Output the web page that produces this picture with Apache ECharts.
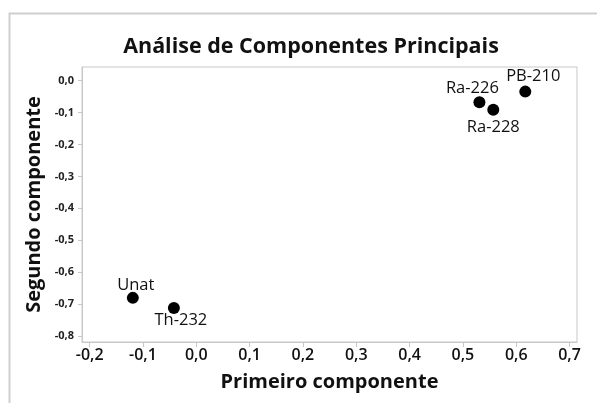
<!DOCTYPE html>
<html>
<head>
<meta charset="utf-8">
<script src="https://cdn.jsdelivr.net/npm/echarts@6/dist/echarts.min.js"></script>
<style>
  html, body { margin: 0; padding: 0; background: #fff; }
  #main { width: 598px; height: 403px; }
</style>
</head>
<body>
<div id="main"></div>
<script>
// variáveis e cargas (PC1, PC2)
var names = ["Unat", "Th-232", "Ra-226", "Ra-228", "PB-210"];
var pc1 = [-0.119, -0.042, 0.531, 0.557, 0.617];
var pc2 = [-0.680, -0.712, -0.068, -0.092, -0.035];
var xTicks = [-0.2, -0.1, 0.0, 0.1, 0.2, 0.3, 0.4, 0.5, 0.6, 0.7];
var yTicks = [0.0, -0.1, -0.2, -0.3, -0.4, -0.5, -0.6, -0.7, -0.8];
// deslocamento dos rótulos (px)
var labelOffset = [[3, -13], [7, 12], [-7, -14], [0, 17], [8, -15]];

var fontFam = "'Open Sans', 'Noto Sans', sans-serif";

function virgula(v) {
  return v.toFixed(1).replace(".", ",").replace("-0,0", "0,0");
}

var pontos = [];
for (var i = 0; i < names.length; i++) {
  pontos.push({
    value: [pc1[i], pc2[i]],
    name: names[i],
    label: {
      show: true,
      position: "inside",
      offset: labelOffset[i],
      formatter: names[i],
      fontSize: 16.5,
      color: "#111",
      fontFamily: fontFam
    }
  });
}

var myChart = echarts.init(document.getElementById("main"));
var option = {
  backgroundColor: "#fff",
  animation: false,
  title: {
    text: "Análise de Componentes Principais",
    left: 306,
    textAlign: "center",
    top: 31,
    textStyle: { fontSize: 21.5, fontWeight: "bold", color: "#111", fontFamily: fontFam }
  },
  graphic: [{
    type: "polyline",
    shape: { points: [[9.5, 420], [9.5, 13.5], [597, 13.5]] },
    style: { stroke: "#cfcfcf", lineWidth: 2, fill: null }
  }],
  grid: { left: 82, right: 21, top: 67, bottom: 61, show: true, borderColor: "#c8c8c8", borderWidth: 1 },
  xAxis: {
    type: "value",
    min: -0.2143,
    max: 0.714,
    name: "Primeiro componente",
    nameLocation: "middle",
    nameGap: 30,
    nameTextStyle: { fontSize: 20, fontWeight: "bold", color: "#111", fontFamily: fontFam },
    splitLine: { show: false },
    axisLine: { show: true, onZero: false, lineStyle: { color: "#c8c8c8" } },
    axisTick: { show: true, length: 5, lineStyle: { color: "#c8c8c8" }, customValues: xTicks },
    axisLabel: {
      customValues: xTicks,
      fontSize: 16, fontWeight: 600, color: "#111", fontFamily: fontFam, margin: 5,
      formatter: function (v) { return virgula(v); }
    }
  },
  yAxis: {
    type: "value",
    min: -0.818,
    max: 0.042,
    name: "Segundo componente",
    nameLocation: "middle",
    nameGap: 35,
    nameTextStyle: { fontSize: 20, fontWeight: "bold", color: "#111", fontFamily: fontFam },
    splitLine: { show: false },
    axisLine: { show: true, onZero: false, lineStyle: { color: "#c8c8c8" } },
    axisTick: { show: true, length: 4, lineStyle: { color: "#c8c8c8" }, customValues: yTicks },
    axisLabel: {
      customValues: yTicks,
      fontSize: 11, fontWeight: "bold", color: "#222", fontFamily: fontFam, margin: 8,
      formatter: function (v) { return virgula(v); }
    }
  },
  series: [{
    type: "scatter",
    symbol: "circle",
    symbolSize: 12,
    itemStyle: { color: "#000", opacity: 1 },
    data: pontos
  }]
};
myChart.setOption(option);
</script>
</body>
</html>
